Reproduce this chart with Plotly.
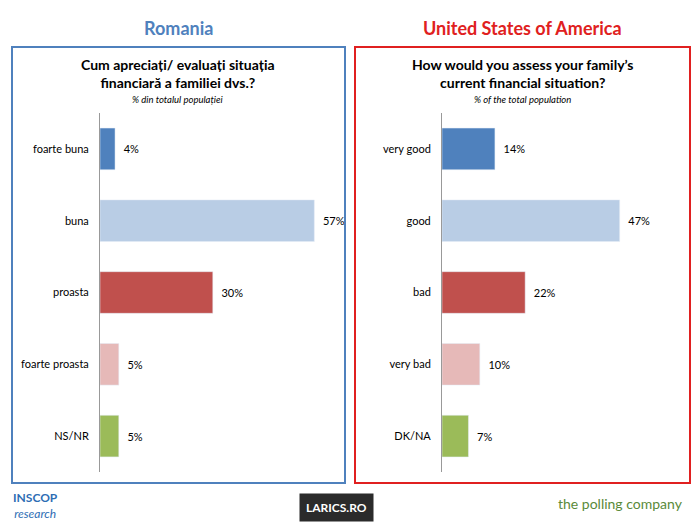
import plotly.graph_objects as go

ro_cats = ["foarte buna", "buna", "proasta", "foarte proasta", "NS/NR"]
ro_vals = [4, 57, 30, 5, 5]
us_cats = ["very good", "good", "bad", "very bad", "DK/NA"]
us_vals = [14, 47, 22, 10, 7]
colors = ["#4F81BD", "#B9CDE5", "#C0504D", "#E6B9B8", "#9BBB59"]
F = "Lato"
W, H, O = 692, 517, 8
def px(x): return (x - O) / W
def py(y): return 1 - (y - O) / H

fig = go.Figure()
fig.add_bar(x=ro_vals, y=ro_cats, orientation="h", marker_color=colors,
            text=[f"  {v}%" for v in ro_vals], textposition="outside",
            textfont=dict(size=11, color="black", family=F), cliponaxis=False,
            xaxis="x", yaxis="y")
fig.add_bar(x=us_vals, y=us_cats, orientation="h", marker_color=colors,
            text=[f"  {v}%" for v in us_vals], textposition="outside",
            textfont=dict(size=11, color="black", family=F), cliponaxis=False,
            xaxis="x2", yaxis="y2")

ycommon = dict(autorange="reversed", showline=True, linecolor="#999", linewidth=1,
               ticks="", tickfont=dict(size=11, family=F, color="black"),
               domain=[py(472), py(113)], ticklabelstandoff=8)
fig.update_layout(
    width=W, height=H, margin=dict(l=0, r=0, t=0, b=0),
    paper_bgcolor="white", plot_bgcolor="white", showlegend=False, bargap=0.42,
    xaxis=dict(domain=[px(100), px(100 + 60 * 3.76)], range=[0, 60], visible=False),
    xaxis2=dict(domain=[px(442), px(442 + 60 * 3.78)], range=[0, 60], visible=False),
    yaxis=dict(anchor="x", **ycommon),
    yaxis2=dict(anchor="x2", **ycommon),
    shapes=[
        dict(type="rect", xref="paper", yref="paper", x0=px(12), x1=px(345),
             y0=py(483), y1=py(47), line=dict(color="#4F81BD", width=2)),
        dict(type="rect", xref="paper", yref="paper", x0=px(355), x1=px(690),
             y0=py(483), y1=py(47), line=dict(color="#E02020", width=2)),
    ],
)
ann = [
    (178, 28, "<b>Romania</b>", 18, "#4F81BD"),
    (522, 28, "<b>United States of America</b>", 18, "#E02020"),
    (178, 74, "<b>Cum apreciați/ evaluați situația<br>financiară a familiei dvs.?</b>", 14, "black"),
    (178, 99, "<i>% din totalul populației</i>", 9.5, "black"),
    (522, 74, "<b>How would you assess your family’s<br>current financial situation?</b>", 14, "black"),
    (522, 99, "<i>% of the total population</i>", 9.5, "black"),
]
for x, y, t, s, c in ann:
    fig.add_annotation(x=px(x), y=py(y), xref="paper", yref="paper", text=t,
                       xanchor="center", yanchor="middle",
                       showarrow=False, font=dict(size=s, color=c, family=F))
fig.add_annotation(x=px(35), y=py(505), xref="paper", yref="paper", xanchor="center",
                   yanchor="middle", text="<b>INSCOP</b><br><i>research</i>", showarrow=False,
                   font=dict(size=12, color="#2E6DB4", family=F))
fig.add_annotation(x=px(336), y=py(507), xref="paper", yref="paper", xanchor="center",
                   yanchor="middle", text="<b>LARICS.RO</b>", showarrow=False, bgcolor="#2B2B2B",
                   borderpad=6, font=dict(size=12, color="white", family=F))
fig.add_annotation(x=px(620), y=py(503), xref="paper", yref="paper", xanchor="center",
                   yanchor="middle", text="the polling company", showarrow=False,
                   font=dict(size=14, color="#5A8A3A", family=F))
fig.write_html("out.html")
